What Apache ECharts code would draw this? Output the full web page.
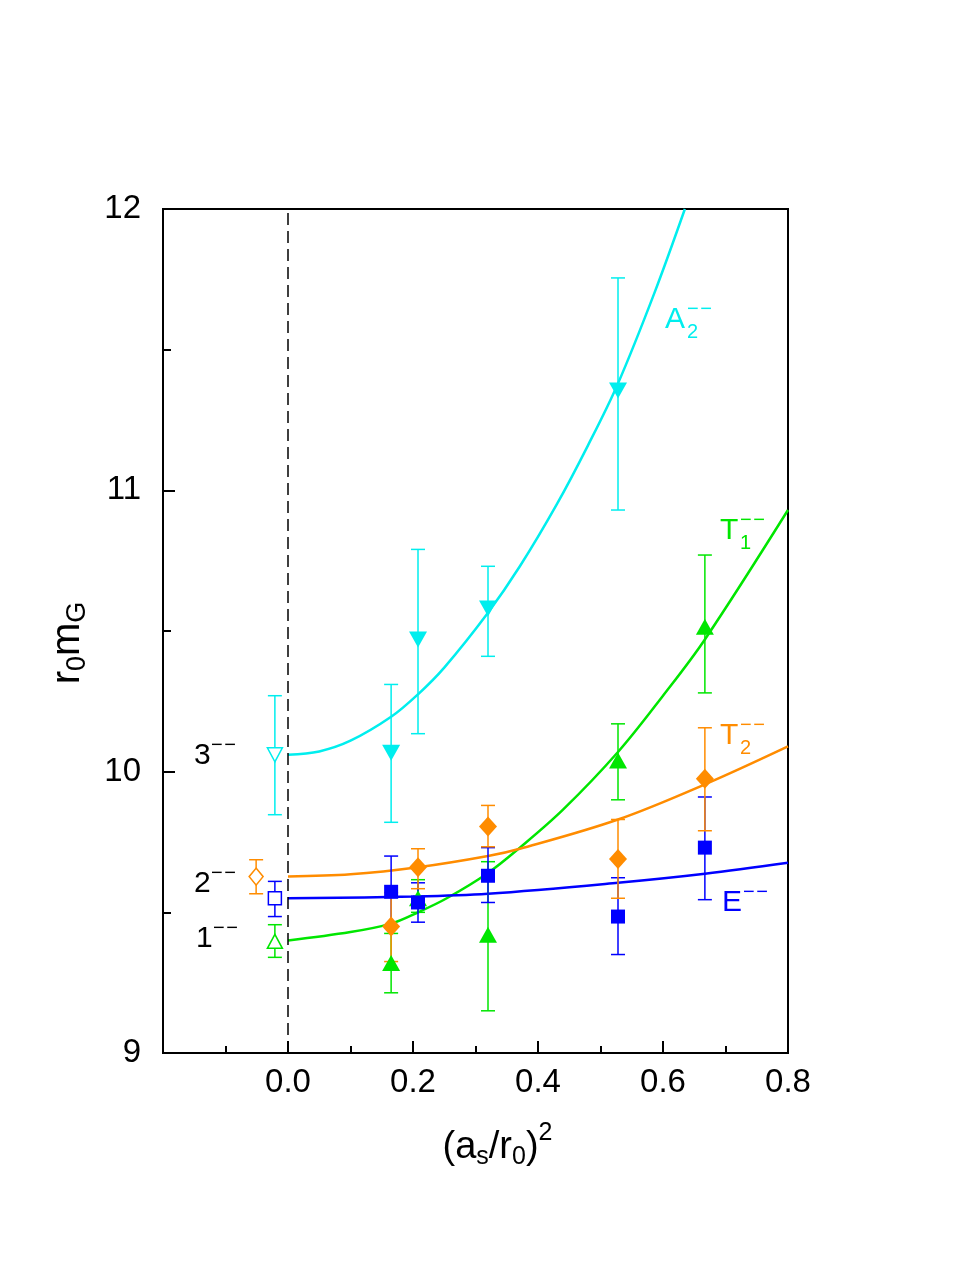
<!DOCTYPE html>
<html>
<head>
<meta charset="utf-8">
<script src="https://cdn.jsdelivr.net/npm/echarts@6/dist/echarts.min.js"></script>
<style>
  html, body { margin: 0; padding: 0; background: #fff; }
  #chart { width: 977px; height: 1264px; }
</style>
</head>
<body>
<div id="chart"></div>
<script>
// lattice spacings (a_s/r_0)^2
var xLat = [0.165, 0.208, 0.32, 0.528, 0.667];
var xLatA2 = [0.165, 0.208, 0.32, 0.528];

// E-- (blue squares)
var eVal = [9.573, 9.535, 9.63, 9.485, 9.73];
var eLo = [9.446, 9.465, 9.535, 9.35, 9.545];
var eHi = [9.70, 9.605, 9.73, 9.623, 9.91];

// T2-- (orange diamonds)
var t2Val = [9.45, 9.66, 9.805, 9.69, 9.975];
var t2Lo = [9.325, 9.584, 9.733, 9.55, 9.79];
var t2Hi = [9.57, 9.726, 9.88, 9.83, 10.156];

// T1-- (green triangles)
var t1Val = [9.32, 9.55, 9.42, 10.04, 10.515];
var t1Lo = [9.214, 9.50, 9.15, 9.90, 10.28];
var t1Hi = [9.425, 9.616, 9.68, 10.17, 10.77];

// A2-- (cyan down triangles)
var a2Val = [10.067, 10.47, 10.58, 11.355];
var a2Lo = [9.82, 10.135, 10.41, 10.93];
var a2Hi = [10.31, 10.79, 10.73, 11.755];

// continuum points [x, value, lo, hi]
var cont3 = [-0.021, 10.06, 9.847, 10.27];
var cont2 = [-0.051, 9.627, 9.566, 9.687];
var contE = [-0.021, 9.55, 9.485, 9.61];
var cont1 = [-0.021, 9.397, 9.34, 9.456];

// fit curves
var a2FitX = [0, 0.05, 0.1, 0.165, 0.208, 0.25, 0.32, 0.371, 0.43, 0.48, 0.528, 0.586, 0.635];
var a2FitY = [10.06, 10.072, 10.11, 10.195, 10.275, 10.37, 10.565, 10.73, 10.95, 11.16, 11.38, 11.70, 12.0];
var t1FitX = [0, 0.1, 0.165, 0.208, 0.254, 0.32, 0.371, 0.44, 0.528, 0.6, 0.667, 0.8];
var t1FitY = [9.40, 9.43, 9.46, 9.50, 9.55, 9.64, 9.73, 9.865, 10.07, 10.27, 10.47, 10.93];
var t2FitX = [0, 0.1, 0.208, 0.32, 0.371, 0.528, 0.667, 0.8];
var t2FitY = [9.627, 9.635, 9.66, 9.70, 9.726, 9.83, 9.955, 10.09];
var eFitX = [0, 0.2, 0.32, 0.528, 0.667, 0.8];
var eFitY = [9.55, 9.556, 9.566, 9.605, 9.637, 9.676];

var cBlue = '#0000ff', cOrange = '#ff8c00', cGreen = '#00e600', cCyan = '#00eeee';
var font = 'Liberation Sans, Arial, sans-serif';
var dashes = '\u2212\u200a\u2212';

function zip(xs, ys) {
    return xs.map(function (x, i) { return [x, ys[i]]; });
}
function errData(xs, lo, hi) {
    return xs.map(function (x, i) { return [x, lo[i], hi[i]]; });
}

function errSeries(data, color) {
    return {
        type: 'custom',
        data: data,
        z: 3,
        renderItem: function (params, api) {
            var lo = api.coord([api.value(0), api.value(1)]);
            var hi = api.coord([api.value(0), api.value(2)]);
            var w = 7;
            var st = {stroke: color, lineWidth: 1.5};
            return {
                type: 'group',
                children: [
                    {type: 'line', shape: {x1: lo[0], y1: lo[1], x2: hi[0], y2: hi[1]}, style: st},
                    {type: 'line', shape: {x1: lo[0] - w, y1: lo[1], x2: lo[0] + w, y2: lo[1]}, style: st},
                    {type: 'line', shape: {x1: hi[0] - w, y1: hi[1], x2: hi[0] + w, y2: hi[1]}, style: st}
                ]
            };
        }
    };
}

function pointSeries(data, color, symbol, size, rotate, hollow) {
    return {
        type: 'scatter',
        data: data,
        symbol: symbol,
        symbolSize: size,
        symbolRotate: rotate || 0,
        z: 4,
        itemStyle: hollow ? {color: '#fff', borderColor: color, borderWidth: 1.5, opacity: 1}
                          : {color: color, opacity: 1},
        emphasis: {disabled: true}
    };
}

function fitSeries(xs, ys, color) {
    return {
        type: 'line',
        data: zip(xs, ys),
        smooth: 0.35,
        showSymbol: false,
        z: 2,
        lineStyle: {color: color, width: 2.5}
    };
}

// label like  X_sub^-- : main letter, subscript, and the superscript dashes stacked over the subscript
function stateLabel(main, sub, left, top, color) {
    var items = [
        {type: 'text', left: left, top: top,
         style: {text: main, fill: color, font: '30px ' + font}}
    ];
    var w = main === 'A' ? 22 : (main === 'T' ? 20 : (main === 'E' ? 21 : 17));
    if (sub) {
        items.push({type: 'text', left: left + w, top: top + 17,
                    style: {text: sub, fill: color, font: '20px ' + font}});
    }
    items.push({type: 'text', left: left + w, top: top - 6,
                style: {text: dashes, fill: color, font: '20px ' + font}});
    return items;
}

var chart = echarts.init(document.getElementById('chart'));

var option = {
    animation: false,
    backgroundColor: '#fff',
    grid: {
        left: 163, right: 189, top: 209, bottom: 211,
        show: true, borderColor: '#000', borderWidth: 2
    },
    xAxis: {
        type: 'value',
        min: -0.2, max: 0.8, interval: 0.2,
        name: '{b|(a}{sub|s}{b|/r}{sub|0}{b|)}{sup|2}',
        nameLocation: 'middle',
        nameGap: 68,
        nameTextStyle: {
            color: '#000',
            padding: [0, 0, 0, 44],
            rich: {
                b: {fontSize: 38, fontFamily: font, color: '#000'},
                sub: {fontSize: 25, fontFamily: font, color: '#000', padding: [20, 0, 0, 0]},
                sup: {fontSize: 25, fontFamily: font, color: '#000', padding: [0, 0, 28, 0]}
            }
        },
        axisLine: {onZero: false, lineStyle: {color: '#000', width: 2}},
        axisTick: {inside: true, length: 12, lineStyle: {color: '#000', width: 2}},
        minorTick: {show: true, splitNumber: 2, length: 7, lineStyle: {color: '#000', width: 2}},
        axisLabel: {
            fontSize: 33, fontFamily: font, color: '#000', margin: 13,
            formatter: function (v) { return v < -0.1 ? '' : v.toFixed(1); }
        },
        splitLine: {show: false}
    },
    yAxis: {
        type: 'value',
        min: 9, max: 12, interval: 1,
        name: '{b|r}{sub|0}{b|m}{sub|G}',
        nameLocation: 'middle',
        nameGap: 72,
        nameRotate: 90,
        nameTextStyle: {
            color: '#000',
            padding: [0, 24, 0, 0],
            rich: {
                b: {fontSize: 40, fontFamily: font, color: '#000'},
                sub: {fontSize: 27, fontFamily: font, color: '#000', padding: [20, 0, 0, 0]}
            }
        },
        axisLine: {onZero: false, lineStyle: {color: '#000', width: 2}},
        axisTick: {inside: true, length: 12, lineStyle: {color: '#000', width: 2}},
        minorTick: {show: true, splitNumber: 2, length: 8, lineStyle: {color: '#000', width: 2}},
        axisLabel: {fontSize: 33, fontFamily: font, color: '#000', margin: 22},
        splitLine: {show: false}
    },
    series: [
        // dashed line at zero
        {
            type: 'line',
            data: [],
            markLine: {
                silent: true,
                symbol: 'none',
                label: {show: false},
                lineStyle: {color: '#000', type: [12, 6], width: 1.5},
                data: [{xAxis: 0}]
            }
        },
        fitSeries(a2FitX, a2FitY, cCyan),
        fitSeries(t1FitX, t1FitY, cGreen),
        fitSeries(t2FitX, t2FitY, cOrange),
        fitSeries(eFitX, eFitY, cBlue),

        errSeries(errData(xLatA2, a2Lo, a2Hi), cCyan),
        errSeries(errData(xLat, t1Lo, t1Hi), cGreen),
        errSeries(errData(xLat, eLo, eHi), cBlue),
        errSeries(errData(xLat, t2Lo, t2Hi), cOrange),
        errSeries([[cont3[0], cont3[2], cont3[3]]], cCyan),
        errSeries([[cont2[0], cont2[2], cont2[3]]], cOrange),
        errSeries([[contE[0], contE[2], contE[3]]], cBlue),
        errSeries([[cont1[0], cont1[2], cont1[3]]], cGreen),

        pointSeries(zip(xLatA2, a2Val), cCyan, 'triangle', [18, 16], 180),
        pointSeries(zip(xLat, t1Val), cGreen, 'triangle', [18, 16], 0),
        pointSeries(zip(xLat, eVal), cBlue, 'rect', 14, 0),
        pointSeries(zip(xLat, t2Val), cOrange, 'diamond', [18, 20], 0),

        pointSeries([[cont3[0], cont3[1]]], cCyan, 'triangle', [15, 14], 180, true),
        pointSeries([[cont2[0], cont2[1]]], cOrange, 'diamond', [14, 17], 0, true),
        pointSeries([[contE[0], contE[1]]], cBlue, 'rect', 13, 0, true),
        pointSeries([[cont1[0], cont1[1]]], cGreen, 'triangle', [15, 14], 0, true)
    ],
    graphic: [].concat(
        stateLabel('3', null, 194, 741, '#000'),
        stateLabel('2', null, 194, 869, '#000'),
        stateLabel('1', null, 196, 924, '#000'),
        stateLabel('A', '2', 665, 305, cCyan),
        stateLabel('T', '1', 720, 516, cGreen),
        stateLabel('T', '2', 720, 721, cOrange),
        stateLabel('E', null, 722, 888, cBlue)
    )
};

chart.setOption(option);
</script>
</body>
</html>
